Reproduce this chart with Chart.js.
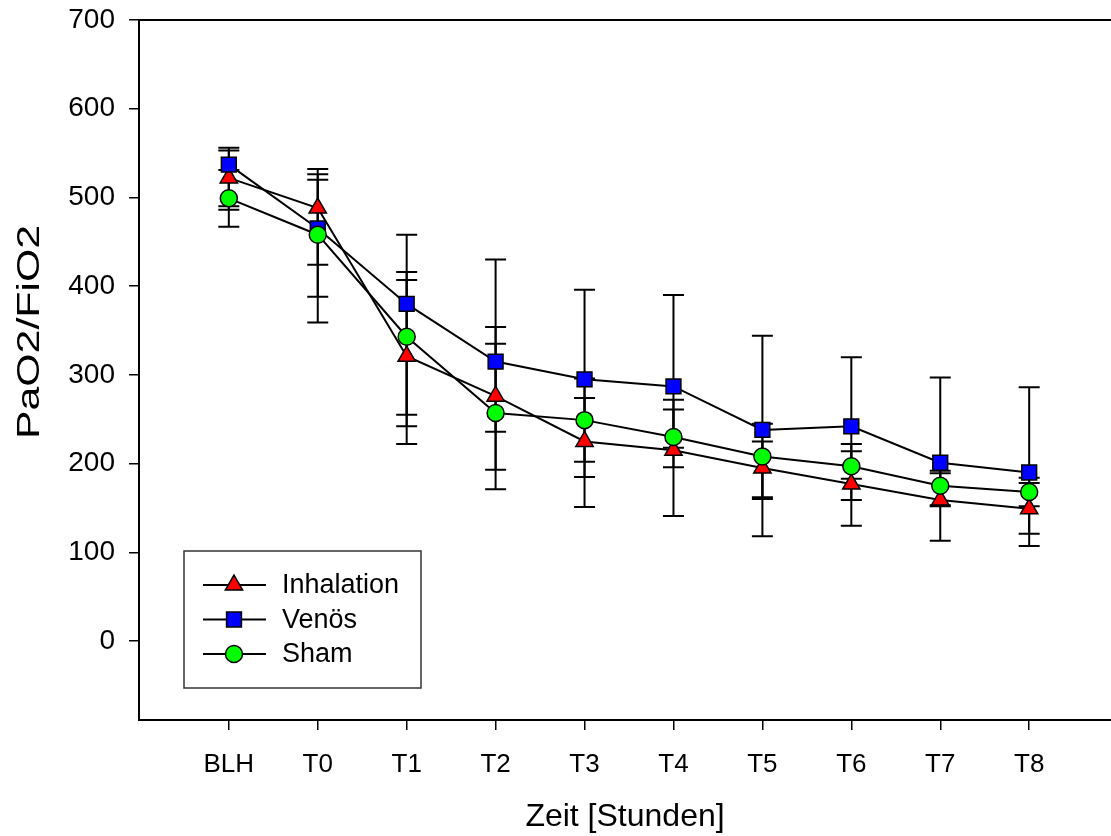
<!DOCTYPE html>
<html>
<head>
<meta charset="utf-8">
<script src="https://cdn.jsdelivr.net/npm/chart.js@4/dist/chart.umd.min.js"></script>
<style>
  body { margin: 0; background: #fff; }
  #wrap { width: 1111px; height: 836px; overflow: hidden; }
</style>
</head>
<body>
<div id="wrap"><canvas id="grafico" width="1111" height="836"></canvas></div>
<script>
// Zeitpunkte
const zeitpunkte = ['BLH', 'T0', 'T1', 'T2', 'T3', 'T4', 'T5', 'T6', 'T7', 'T8'];
const yTicks = [0, 100, 200, 300, 400, 500, 600, 700];

// Mittelwerte
const inhalation = [522, 488, 321, 276, 225, 215, 195, 177, 159, 149];
const venoes     = [537, 465, 380, 315, 295, 287, 238, 242, 201, 190];
const sham       = [499, 458, 343, 257, 249, 230, 208, 197, 175, 168];

// Fehlerbalken (unten / oben)
const inhalationLow  = [486, 424, 222, 193, 185, 141, 160, 130, 152, 121];
const inhalationHigh = [553, 532, 407, 354, 274, 272, 225, 222, 189, 178];
const venoesLow      = [490, 359, 242, 236, 202, 196, 118, 159, 113, 107];
const venoesHigh     = [556, 526, 458, 430, 396, 390, 344, 320, 297, 286];
const shamLow        = [467, 388, 255, 171, 151, 218, 162, 183, 153, 152];
const shamHigh       = [531, 520, 416, 335, 296, 261, 245, 214, 192, 184];

const FONT = "'Liberation Sans', Arial, sans-serif";

function punkte(werte) {
  return werte.map((v, i) => ({ x: i, y: v }));
}

const serien = [
  { label: 'Inhalation', data: inhalation, low: inhalationLow, high: inhalationHigh, style: 'triangle', color: '#ff0000', radius: 10, order: 2 },
  { label: 'Venös', data: venoes, low: venoesLow, high: venoesHigh, style: 'rect', color: '#0000ff', radius: 10.5, order: 1 },
  { label: 'Sham', data: sham, low: shamLow, high: shamHigh, style: 'circle', color: '#00ff00', radius: 8.5, order: 0 }
];

// Fehlerbalken hinter den Linien zeichnen
const fehlerbalken = {
  id: 'fehlerbalken',
  beforeDatasetsDraw(chart) {
    const ctx = chart.ctx;
    const xs = chart.scales.x, ys = chart.scales.y;
    ctx.save();
    ctx.strokeStyle = '#000';
    ctx.lineWidth = 2;
    serien.forEach(s => {
      s.data.forEach((v, i) => {
        const x = xs.getPixelForValue(i);
        const y1 = ys.getPixelForValue(s.low[i]);
        const y2 = ys.getPixelForValue(s.high[i]);
        ctx.beginPath();
        ctx.moveTo(x, y1); ctx.lineTo(x, y2);
        ctx.moveTo(x - 10.5, y1); ctx.lineTo(x + 10.5, y1);
        ctx.moveTo(x - 10.5, y2); ctx.lineTo(x + 10.5, y2);
        ctx.stroke();
      });
    });
    ctx.restore();
  }
};

// Rahmen oben, y-Titel und Legende
const rahmenLegende = {
  id: 'rahmenLegende',
  afterDraw(chart) {
    const ctx = chart.ctx;
    const a = chart.chartArea;
    ctx.save();
    ctx.strokeStyle = '#000';
    ctx.lineWidth = 2;
    ctx.beginPath();
    ctx.moveTo(a.left - 1, a.top);
    ctx.lineTo(a.right, a.top);
    ctx.stroke();

    // y-Achsentitel
    ctx.save();
    ctx.translate(30, a.top + 312);
    ctx.rotate(-Math.PI / 2);
    ctx.scale(1.38, 1);
    ctx.fillStyle = '#000';
    ctx.font = '31px ' + FONT;
    ctx.textAlign = 'center';
    ctx.textBaseline = 'middle';
    ctx.fillText('PaO2/FiO2', 0, 0);
    ctx.restore();

    // Legende
    const bx = a.left + 45, by = a.bottom - 169, bw = 237, bh = 137;
    ctx.lineWidth = 1.5;
    ctx.strokeStyle = '#333';
    ctx.strokeRect(bx, by, bw, bh);

    serien.forEach((s, i) => {
      const y = by + 34 + i * 34.5;
      ctx.strokeStyle = '#000';
      ctx.lineWidth = 2;
      ctx.beginPath();
      ctx.moveTo(bx + 19, y); ctx.lineTo(bx + 82, y);
      ctx.stroke();
      ctx.fillStyle = s.color;
      ctx.lineWidth = 1.5;
      Chart.helpers.drawPoint(ctx, { pointStyle: s.style, radius: s.radius, borderWidth: 1.5, rotation: 0 }, bx + 50, y);
      ctx.fillStyle = '#000';
      ctx.font = '27px ' + FONT;
      ctx.textBaseline = 'middle';
      ctx.textAlign = 'left';
      ctx.fillText(s.label, bx + 98, y + 1);
    });
    ctx.restore();
  }
};

new Chart(document.getElementById('grafico'), {
  type: 'line',
  data: {
    datasets: serien.map(s => ({
      label: s.label,
      data: punkte(s.data),
      order: s.order,
      borderColor: '#000',
      borderWidth: 2,
      pointStyle: s.style,
      pointRadius: s.radius,
      pointHoverRadius: s.radius,
      pointBackgroundColor: s.color,
      pointBorderColor: '#000',
      pointBorderWidth: 1.5,
      tension: 0
    }))
  },
  options: {
    responsive: false,
    animation: false,
    devicePixelRatio: 1,
    layout: { autoPadding: false, padding: { top: 20, right: 0, bottom: 0, left: 0 } },
    plugins: {
      legend: { display: false },
      tooltip: { enabled: false }
    },
    scales: {
      x: {
        type: 'linear',
        min: -1.01,
        max: 9.92,
        afterFit: scale => {
          scale.height = 116;
          scale.paddingLeft = 0;
          scale.paddingRight = 0;
        },
        afterBuildTicks: scale => {
          scale.ticks = zeitpunkte.map((z, i) => ({ value: i }));
        },
        ticks: {
          autoSkip: false,
          maxRotation: 0,
          padding: 19,
          color: '#000',
          font: { family: FONT, size: 26 },
          callback: v => zeitpunkte[v]
        },
        grid: {
          drawOnChartArea: false,
          drawTicks: true,
          tickLength: 10,
          tickColor: '#000',
          lineWidth: 1.5
        },
        border: { display: true, color: '#000', width: 2 },
        title: {
          display: true,
          text: 'Zeit [Stunden]',
          color: '#000',
          font: { family: FONT, size: 32 },
          padding: { top: 0, bottom: 0 }
        }
      },
      y: {
        type: 'linear',
        min: -89,
        max: 700,
        afterFit: scale => {
          scale.width = 139;
          scale.paddingTop = 0;
          scale.paddingBottom = 0;
        },
        afterBuildTicks: scale => {
          scale.ticks = yTicks.map(v => ({ value: v }));
        },
        ticks: {
          padding: 14,
          color: '#000',
          font: { family: FONT, size: 28 }
        },
        grid: {
          drawOnChartArea: false,
          drawTicks: true,
          tickLength: 10,
          tickColor: '#000',
          lineWidth: 1.5
        },
        border: { display: true, color: '#000', width: 2 }
      }
    }
  },
  plugins: [fehlerbalken, rahmenLegende]
});
</script>
</body>
</html>
